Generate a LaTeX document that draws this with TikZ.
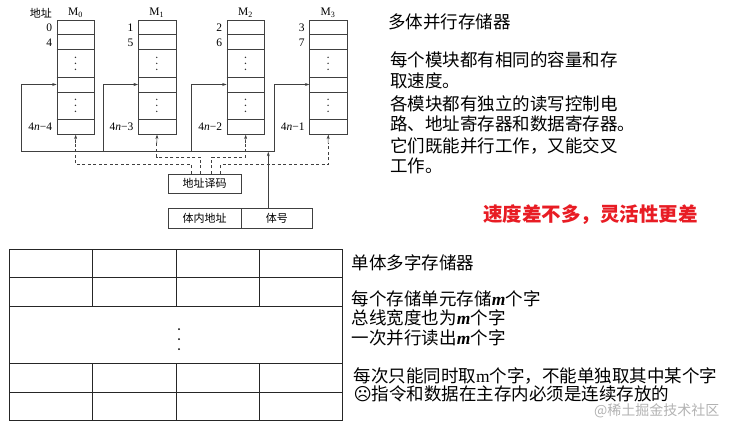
\documentclass[tikz,border=0pt]{standalone}
\usepackage{fontspec}
\setmainfont{Liberation Serif}
\newfontfamily\cjk{Noto Sans CJK SC}
\newfontfamily\symb{DejaVu Sans}
\usetikzlibrary{arrows.meta,positioning}
\definecolor{alert}{RGB}{232,28,36}
\newcommand{\mword}{{\rmfamily\bfseries\itshape m}}

\begin{document}
\begin{tikzpicture}[x=1pt,y=-1pt,
    >={Stealth[length=4.5pt,width=3pt]},
    line/.style={draw=black!75,line width=0.6pt},
    ctrl/.style={line,dash pattern=on 3pt off 2.5pt},
    grid/.style={draw=black!85,line width=0.9pt},
    bank/.style={line,minimum width=37.5pt,minimum height=114pt,inner sep=0pt,anchor=north west},
    box/.style={line,minimum height=19.5pt,inner sep=0pt,font=\cjk\fontsize{11}{13}\selectfont},
    lbl/.style={inner sep=0pt,font=\fontsize{11.5}{13}\selectfont},
    note/.style={inner sep=0pt,anchor=west,font=\cjk\fontsize{17.5}{21}\selectfont}]
    \useasboundingbox (0,0) rectangle (742,429);

    % Memory banks M0..M3
    \node[lbl,font=\cjk\fontsize{11}{13}\selectfont] (addrhead) at (41,13) {地址};
    \foreach \i/\x/\a/\b/\c in {0/56.7/0/4/4\textit{n}−4, 1/138/1/5/4\textit{n}−3,
                                2/226.7/2/6/4\textit{n}−2, 3/309.3/3/7/4\textit{n}−1}{
        \node[bank] (m\i) at (\x,20) {};
        \foreach \y in {34.3,49.3,77.3,92,119.3}
            \draw[line] (\x,\y) -- ++(37.5,0);
        \foreach \y in {57.3,63.3,69.3,99.3,105.3,111.3}
            \fill[black!80] (\x+18.75,\y) circle (0.8pt);
        \node[lbl] (name\i) at (\x+18.75,12.5) {M\textsubscript{\i}};
        \node[lbl,anchor=east] (first\i) at (\x-4.5,27.5) {\a};
        \node[lbl,anchor=east] (second\i) at (\x-4.5,42.5) {\b};
        \node[lbl,anchor=east] (last\i) at (\x-4.5,127) {\c};
        % bank select line into the bank
        \coordinate (in\i) at (\x,84.5);
        \coordinate (fd\i) at (\x-35,151.7);
        \draw[line,->] (fd\i) |- (in\i);
        % decoded address into the bank
        \coordinate (ad\i) at (\x+18.75,143);
        \draw[line,->] (ad\i) -- (m\i.south);
    }
    \draw[line] (fd0) -- (fd3);

    % Decoder and address register
    \node[box,minimum width=72.7pt] (dec) at (204.7,183.7) {地址译码};
    \node[box,minimum width=72.7pt,minimum height=20pt] (inner) at (204.7,218.3) {体内地址};
    \node[box,minimum width=71.7pt,minimum height=20pt,right=-0.6pt of inner] (hao) {体号};
    \coordinate (sel) at (268.3,208.3);
    \draw[line,->] (sel) -- (sel |- fd0);
    \foreach \i/\dx/\h in {0/-13/9, 1/-4/16.7, 2/7/16.7, 3/16/9}
        \draw[ctrl] ([xshift=\dx pt]dec.north) -- ++(0,-\h) -| (ad\i);

    % Notes on the multi-bank memory
    \node[note] (multi) at (388,21.7) {多体并行存储器};
    \node[note] (n1) at (390,60) {每个模块都有相同的容量和存};
    \node[note] (n2) at (390,81) {取速度。};
    \node[note] (n3) at (390,104.3) {各模块都有独立的读写控制电};
    \node[note] (n4) at (390,124.3) {路、地址寄存器和数据寄存器。};
    \node[note] (n5) at (390,146) {它们既能并行工作，又能交叉};
    \node[note] (n6) at (390,165.7) {工作。};
    \node[note,font=\cjk\bfseries\fontsize{19.5}{23}\selectfont,text=alert] (cmp) at (483,215) {速度差不多，灵活性更差};

    % Single-bank multi-word memory
    \draw[grid] (9.3,249) rectangle (342.7,420.3);
    \foreach \y in {277.3,306,363.3,392}
        \draw[grid] (9.3,\y) -- (342.7,\y);
    \foreach \x in {92.7,176,259.3}{
        \draw[grid] (\x,249) -- (\x,306);
        \draw[grid] (\x,363.3) -- (\x,420.3);
    }
    \foreach \y in {329,339,349}
        \fill (179,\y) circle (1pt);

    % Notes on the single-bank memory
    \node[note] (single) at (351.7,262.7) {单体多字存储器};
    \node[note] (w1) at (351.7,298.3) {每个存储单元存储\mword 个字};
    \node[note] (w2) at (351.7,318.3) {总线宽度也为\mword 个字};
    \node[note] (w3) at (351.7,338.3) {一次并行读出\mword 个字};
    \node[note] (w4) at (353.3,376) {每次只能同时取{\rmfamily m}个字，不能单独取其中某个字};
    \node[note] (w5) at (353.3,394.3) {{\symb ☹}指令和数据在主存内必须是连续存放的};
    \node[note,font=\cjk\fontsize{14}{16}\selectfont,text=black!30] (mark) at (594,411) {@稀土掘金技术社区};
\end{tikzpicture}
\end{document}
